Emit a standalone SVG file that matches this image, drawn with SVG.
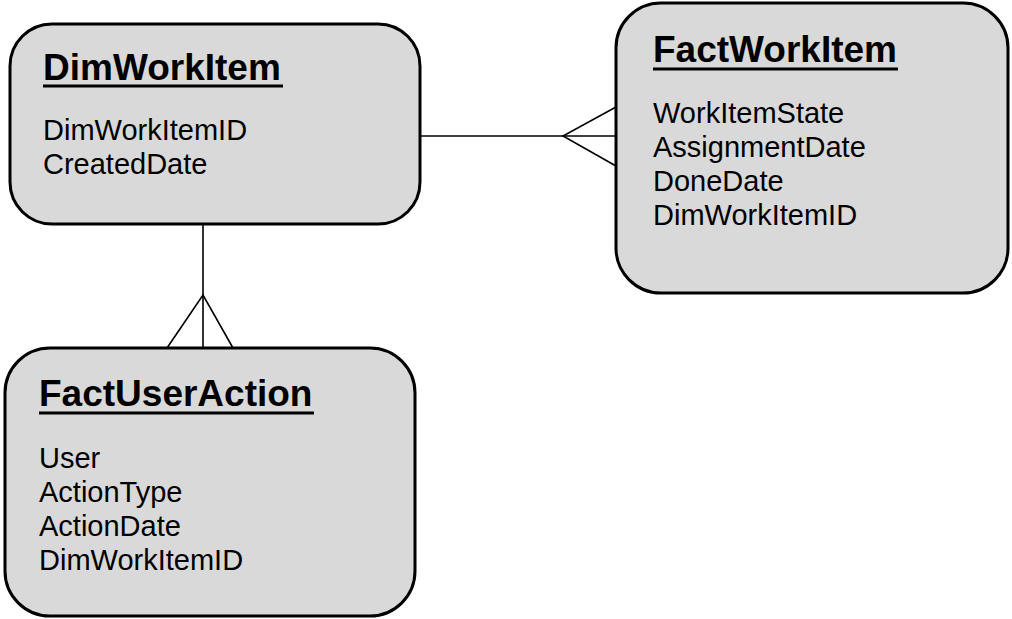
<svg xmlns="http://www.w3.org/2000/svg" width="1012" height="619" viewBox="0 0 1012 619">
<style>
.box{fill:#d9d9d9;stroke:#000;stroke-width:3}
.title{font-family:"Liberation Sans",Arial,sans-serif;font-weight:bold;font-size:37px;fill:#000}
.attr{font-family:"Liberation Sans",Arial,sans-serif;font-size:29px;fill:#000}
.conn{stroke:#000;stroke-width:1.6;fill:none}
.ul{stroke:#000;stroke-width:3}
</style>
<rect width="1012" height="619" fill="#fff"/>
<g id="connectors">
<line class="conn" x1="420" y1="136" x2="616" y2="136"/>
<polyline class="conn" points="616,107 563,136 616,166"/>
<line class="conn" x1="203" y1="224" x2="203" y2="348"/>
<polyline class="conn" points="167,348 203,295 233,348"/>
</g>
<g id="DimWorkItem">
<rect class="box" x="10" y="24" width="410" height="200" rx="42" ry="42"/>
<text class="title" x="43" y="80">DimWorkItem</text>
<line class="ul" x1="43" y1="86" x2="283" y2="86"/>
<text class="attr" x="43" y="140">DimWorkItemID</text>
<text class="attr" x="43" y="174">CreatedDate</text>
</g>
<g id="FactWorkItem">
<rect class="box" x="616" y="3" width="392" height="290" rx="45" ry="45"/>
<text class="title" x="653" y="62">FactWorkItem</text>
<line class="ul" x1="653" y1="69" x2="898" y2="69"/>
<text class="attr" x="653" y="123">WorkItemState</text>
<text class="attr" x="653" y="157">AssignmentDate</text>
<text class="attr" x="653" y="191">DoneDate</text>
<text class="attr" x="653" y="225">DimWorkItemID</text>
</g>
<g id="FactUserAction">
<rect class="box" x="5" y="348" width="410" height="268" rx="45" ry="45"/>
<text class="title" x="39" y="406">FactUserAction</text>
<line class="ul" x1="39" y1="413" x2="314" y2="413"/>
<text class="attr" x="39" y="468">User</text>
<text class="attr" x="39" y="502">ActionType</text>
<text class="attr" x="39" y="536">ActionDate</text>
<text class="attr" x="39" y="570">DimWorkItemID</text>
</g>
</svg>
